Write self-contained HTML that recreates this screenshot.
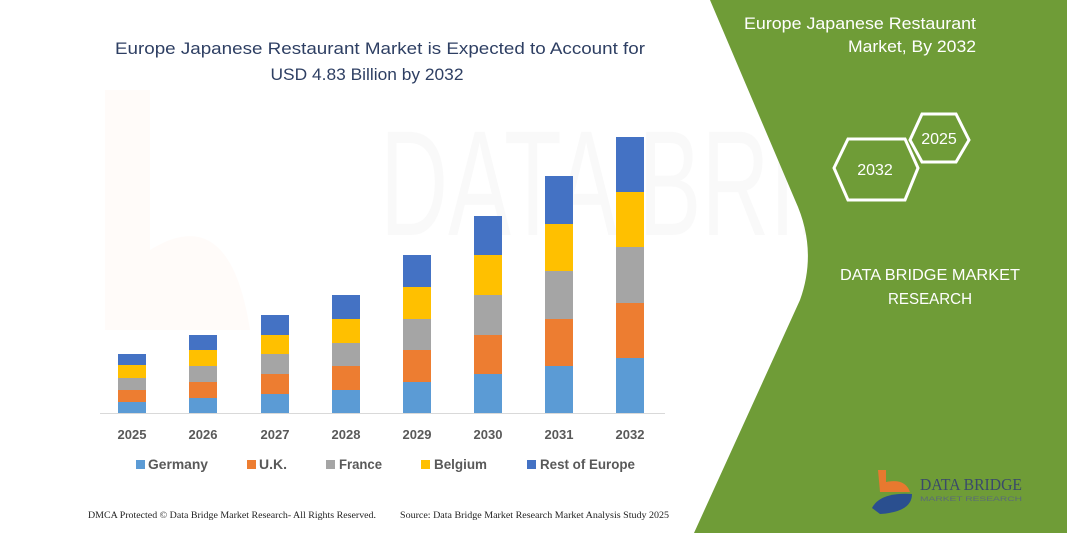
<!DOCTYPE html>
<html><head><meta charset="utf-8"><style>
body{margin:0;width:1067px;height:533px;overflow:hidden;background:#fff;font-family:"Liberation Sans",sans-serif;}
</style></head><body>
<svg width="1067" height="533" xmlns="http://www.w3.org/2000/svg" style="position:absolute;left:0;top:0">
<text x="380" y="235" font-size="150" fill="#000" fill-opacity="0.025" font-family="Liberation Sans" textLength="620" lengthAdjust="spacingAndGlyphs">DATA BRIDGE</text>
<path d="M105 90 L150 90 L150 250 Q230 200 250 330 L105 330 Z" fill="#f3a070" fill-opacity="0.04"/>
<path d="M710 0 L1067 0 L1067 533 L694 533 L800 300 Q818 250 795 200 Z" fill="#6f9c37"/>
<text x="976" y="29" font-size="17" fill="#fff" text-anchor="end" textLength="232" lengthAdjust="spacingAndGlyphs">Europe Japanese Restaurant</text>
<text x="976" y="52" font-size="17" fill="#fff" text-anchor="end" textLength="128" lengthAdjust="spacingAndGlyphs">Market, By 2032</text>
<polygon points="910,140 922,114 956,114 969,140 956,162 922,162" fill="none" stroke="#fff" stroke-width="3"/>
<text x="939" y="144" font-size="16" fill="#fff" text-anchor="middle">2025</text>
<polygon points="834,168 848,139 905,139 918,168 905,200 848,200" fill="none" stroke="#fff" stroke-width="3"/>
<text x="875" y="175" font-size="16" fill="#fff" text-anchor="middle">2032</text>
<text x="930" y="280" font-size="16" fill="#fff" text-anchor="middle" textLength="180" lengthAdjust="spacingAndGlyphs">DATA BRIDGE MARKET</text>
<text x="930" y="304" font-size="16" fill="#fff" text-anchor="middle" textLength="84" lengthAdjust="spacingAndGlyphs">RESEARCH</text>
<path d="M878 470 L886 470 L886 482 Q905 478 910 492 L880 492 Z" fill="#e8792f"/>
<path d="M872 508 Q880 492 912 494 Q912 512 880 514 Z" fill="#2a4f8f"/>
<text x="920" y="490" font-size="17" fill="#3a4a6a" font-family="Liberation Serif" textLength="102" lengthAdjust="spacingAndGlyphs">DATA BRIDGE</text>
<text x="920" y="501" font-size="6" fill="#5a6a7a" textLength="102" lengthAdjust="spacingAndGlyphs">MARKET RESEARCH</text>
<text x="380" y="54" font-size="17" fill="#2e3f63" text-anchor="middle" textLength="530" lengthAdjust="spacingAndGlyphs">Europe Japanese Restaurant Market is Expected to Account for</text>
<text x="367" y="80" font-size="17" fill="#2e3f63" text-anchor="middle" textLength="193" lengthAdjust="spacingAndGlyphs">USD 4.83 Billion by 2032</text>
<line x1="100" y1="413.5" x2="665" y2="413.5" stroke="#d9d9d9" stroke-width="1"/>
<g font-size="13" font-weight="bold" fill="#595959" text-anchor="middle">
<text x="132" y="439">2025</text><text x="203" y="439">2026</text><text x="275" y="439">2027</text><text x="346" y="439">2028</text><text x="417" y="439">2029</text><text x="488" y="439">2030</text><text x="559" y="439">2031</text><text x="630" y="439">2032</text>
</g>
<g font-size="14" font-weight="bold" fill="#595959">
<rect x="136" y="460" width="9" height="9" fill="#5b9bd5"/><text x="148" y="469" textLength="60" lengthAdjust="spacingAndGlyphs">Germany</text>
<rect x="247" y="460" width="9" height="9" fill="#ed7d31"/><text x="259" y="469" textLength="28" lengthAdjust="spacingAndGlyphs">U.K.</text>
<rect x="326" y="460" width="9" height="9" fill="#a5a5a5"/><text x="339" y="469" textLength="43" lengthAdjust="spacingAndGlyphs">France</text>
<rect x="421" y="460" width="9" height="9" fill="#ffc000"/><text x="434" y="469" textLength="53" lengthAdjust="spacingAndGlyphs">Belgium</text>
<rect x="527" y="460" width="9" height="9" fill="#4472c4"/><text x="540" y="469" textLength="95" lengthAdjust="spacingAndGlyphs">Rest of Europe</text>
</g>
<g font-size="9" fill="#222" font-family="Liberation Serif">
<text x="88" y="518" textLength="288" lengthAdjust="spacingAndGlyphs">DMCA Protected © Data Bridge Market Research- All Rights Reserved.</text>
<text x="400" y="518" textLength="269" lengthAdjust="spacingAndGlyphs">Source: Data Bridge Market Research Market Analysis Study 2025</text>
</g>
<g>
<rect x="118" y="402" width="28" height="11" fill="#5b9bd5"/><rect x="118" y="390" width="28" height="12" fill="#ed7d31"/><rect x="118" y="378" width="28" height="12" fill="#a5a5a5"/><rect x="118" y="365" width="28" height="13" fill="#ffc000"/><rect x="118" y="354" width="28" height="11" fill="#4472c4"/>
<rect x="189" y="398" width="28" height="15" fill="#5b9bd5"/><rect x="189" y="382" width="28" height="16" fill="#ed7d31"/><rect x="189" y="366" width="28" height="16" fill="#a5a5a5"/><rect x="189" y="350" width="28" height="16" fill="#ffc000"/><rect x="189" y="335" width="28" height="15" fill="#4472c4"/>
<rect x="261" y="394" width="28" height="19" fill="#5b9bd5"/><rect x="261" y="374" width="28" height="20" fill="#ed7d31"/><rect x="261" y="354" width="28" height="20" fill="#a5a5a5"/><rect x="261" y="335" width="28" height="19" fill="#ffc000"/><rect x="261" y="315" width="28" height="20" fill="#4472c4"/>
<rect x="332" y="390" width="28" height="23" fill="#5b9bd5"/><rect x="332" y="366" width="28" height="24" fill="#ed7d31"/><rect x="332" y="343" width="28" height="23" fill="#a5a5a5"/><rect x="332" y="319" width="28" height="24" fill="#ffc000"/><rect x="332" y="295" width="28" height="24" fill="#4472c4"/>
<rect x="403" y="382" width="28" height="31" fill="#5b9bd5"/><rect x="403" y="350" width="28" height="32" fill="#ed7d31"/><rect x="403" y="319" width="28" height="31" fill="#a5a5a5"/><rect x="403" y="287" width="28" height="32" fill="#ffc000"/><rect x="403" y="255" width="28" height="32" fill="#4472c4"/>
<rect x="474" y="374" width="28" height="39" fill="#5b9bd5"/><rect x="474" y="335" width="28" height="39" fill="#ed7d31"/><rect x="474" y="295" width="28" height="40" fill="#a5a5a5"/><rect x="474" y="255" width="28" height="40" fill="#ffc000"/><rect x="474" y="216" width="28" height="39" fill="#4472c4"/>
<rect x="545" y="366" width="28" height="47" fill="#5b9bd5"/><rect x="545" y="319" width="28" height="47" fill="#ed7d31"/><rect x="545" y="271" width="28" height="48" fill="#a5a5a5"/><rect x="545" y="224" width="28" height="47" fill="#ffc000"/><rect x="545" y="176" width="28" height="48" fill="#4472c4"/>
<rect x="616" y="358" width="28" height="55" fill="#5b9bd5"/><rect x="616" y="303" width="28" height="55" fill="#ed7d31"/><rect x="616" y="247" width="28" height="56" fill="#a5a5a5"/><rect x="616" y="192" width="28" height="55" fill="#ffc000"/><rect x="616" y="137" width="28" height="55" fill="#4472c4"/>
</g>
</svg>
</body></html>
